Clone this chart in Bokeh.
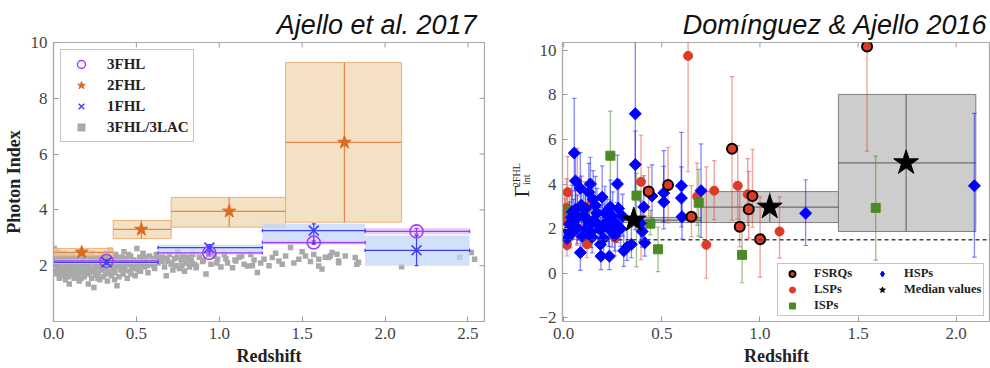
import numpy as np
from bokeh.plotting import figure
from bokeh.layouts import row
from bokeh.models import Legend, LegendItem, Span, FixedTicker, Range1d, Title
from bokeh.core.properties import value
from bokeh.embed import file_html
from bokeh.resources import INLINE

SERIF = "Liberation Serif"
SANS = "Liberation Sans"

# ---------------- Left panel data (Ajello et al. 2017) ----------------
lac_z = [0.005, 0.01, 0.012, 0.015, 0.02, 0.022, 0.025, 0.03, 0.032, 0.035, 0.04, 0.042, 0.045, 0.05, 0.052,
         0.055, 0.06, 0.062, 0.065, 0.07, 0.072, 0.075, 0.08, 0.082, 0.085, 0.09, 0.092, 0.095, 0.098, 0.1,
         0.105, 0.11, 0.112, 0.118, 0.12, 0.125, 0.13, 0.135, 0.14, 0.142, 0.148, 0.15, 0.155, 0.16, 0.165,
         0.17, 0.175, 0.18, 0.185, 0.19, 0.195, 0.2,
         0.205, 0.21, 0.215, 0.22, 0.225, 0.23, 0.235, 0.24, 0.244, 0.25, 0.255, 0.26, 0.265, 0.27, 0.275,
         0.28, 0.285, 0.29, 0.295, 0.3, 0.305, 0.31, 0.315, 0.32, 0.325, 0.33, 0.335, 0.34, 0.345, 0.35,
         0.36, 0.365, 0.37, 0.375, 0.383, 0.39, 0.395, 0.4, 0.405, 0.41, 0.42, 0.425, 0.43, 0.44, 0.445,
         0.45, 0.46, 0.465, 0.47, 0.48, 0.485, 0.493, 0.5, 0.503, 0.51, 0.52, 0.53, 0.54, 0.55, 0.56, 0.57,
         0.58, 0.59, 0.6, 0.61, 0.62, 0.63, 0.64, 0.65,
         0.66, 0.67, 0.68, 0.69, 0.7, 0.71, 0.72, 0.73, 0.74, 0.75, 0.76, 0.77, 0.78, 0.79, 0.8, 0.81, 0.82,
         0.83, 0.84, 0.85, 0.86,
         0.862, 0.88, 0.9, 0.92, 0.95, 0.97, 0.99, 1.01, 1.03, 1.05, 1.08, 1.1, 1.12, 1.15, 1.17, 1.19, 1.21,
         1.23, 1.25, 1.27,
         1.30, 1.32, 1.34, 1.36, 1.38, 1.40, 1.43, 1.45, 1.48, 1.5, 1.52, 1.55, 1.57, 1.60, 1.60, 1.62, 1.64,
         1.66, 1.67, 1.68, 1.71, 1.72, 1.72, 1.76, 1.82, 1.83, 1.84,
         2.10, 2.45, 2.52, 2.54,
         0.008, 0.018, 0.028, 0.038, 0.048, 0.058, 0.068, 0.078, 0.088, 0.108, 0.115, 0.128, 0.138, 0.152,
         0.168, 0.178, 0.192, 0.208, 0.218, 0.228, 0.248, 0.258, 0.268, 0.278, 0.292, 0.308, 0.318, 0.328,
         0.342, 0.355, 0.368, 0.378, 0.388, 0.402, 0.415, 0.428, 0.438, 0.452, 0.468, 0.478, 0.49, 0.508,
         0.525, 0.535, 0.548, 0.565, 0.585, 0.605, 0.625, 0.655, 0.685, 0.715, 0.745, 0.775, 0.805, 0.835,
         0.905, 0.935, 0.985, 1.04, 1.095, 1.135, 1.2]
lac_y = [2.62, 2.35, 2.05, 1.85, 2.25, 1.7, 2.5, 1.95, 2.15, 1.55, 2.4, 1.8, 2.0, 2.3, 1.65,
         2.1, 1.9, 2.45, 1.75, 2.2, 1.5, 2.05, 1.85, 2.35, 1.95, 1.6, 2.15, 1.34, 2.25, 1.8,
         2.0, 1.7, 2.4, 1.9, 2.2, 1.55, 2.05, 1.8, 2.3, 1.65, 1.95, 2.15, 1.45, 2.5, 1.75,
         2.0, 1.9, 2.25, 1.6, 2.1, 1.8, 2.35,
         1.7, 1.34, 2.0, 1.9, 2.2, 1.55, 2.45, 1.8, 1.22, 2.05, 1.65, 2.3, 1.95, 1.75, 2.15,
         1.5, 2.4, 1.85, 2.0, 1.6, 2.25, 1.9, 1.7, 2.1, 1.45, 2.35, 1.8, 2.55, 2.0, 1.65,
         2.2, 1.9, 1.75, 2.4, 1.28, 2.05, 1.6, 2.3, 1.85, 2.15, 1.7, 2.5, 1.95, 2.25, 1.55,
         2.05, 1.8, 2.35, 2.0, 1.9, 2.2, 1.64, 2.1, 2.62, 1.85, 2.3, 2.0, 2.45, 1.95, 2.15, 1.75,
         2.35, 2.05, 2.25, 1.9, 2.4, 2.1, 2.2, 2.3,
         2.3, 1.95, 1.64, 2.15, 2.4, 2.05, 1.85, 2.25, 2.0, 2.5, 1.9, 2.2, 2.35, 1.8, 2.1, 2.3, 1.95,
         2.2, 2.4, 2.05, 1.93,
         1.99, 2.3, 2.15, 1.70, 2.05, 2.35, 2.23, 1.95, 2.4, 2.1, 1.93, 2.17, 2.3, 2.05, 1.99, 2.4, 2.2,
         1.76, 2.1, 2.23,
         2.0, 2.29, 2.45, 2.17, 2.05, 2.35, 2.65, 2.1, 2.23, 2.5, 2.35, 2.15, 2.4, 1.99, 2.23, 1.88, 2.3,
         2.29, 2.35, 2.47, 2.41, 2.11, 2.17, 2.35, 2.29, 2.05, 2.12,
         1.96, 2.3, 2.47, 2.23,
         2.1, 1.75, 2.3, 2.0, 1.9, 2.2, 1.65, 2.4, 2.05, 2.25, 1.85, 1.6, 2.1, 2.2,
         1.55, 2.3, 2.0, 2.15, 1.75, 2.35, 1.9, 2.1, 1.55, 2.25, 2.1, 1.95, 2.45, 1.75,
         2.2, 2.05, 1.5, 2.25, 1.95, 2.0, 2.3, 1.85, 2.1, 2.4, 1.7, 2.2, 1.95, 2.05,
         1.8, 2.2, 2.3, 2.0, 2.1, 2.0, 2.25, 2.15, 2.25, 2.1, 2.3, 2.0, 2.2, 2.1,
         2.2, 2.4, 2.1, 2.25, 2.2, 2.35, 2.0]

fhl2_z = [0.17, 0.53, 1.06, 1.755]
fhl2_y = [2.48, 3.30, 3.95, 6.42]
fhl2_left = [0.0, 0.36, 0.71, 1.40]
fhl2_right = [0.36, 0.71, 1.40, 2.10]
fhl2_lo = [2.35, 2.97, 3.38, 3.56]
fhl2_hi = [2.62, 3.62, 4.45, 9.28]

bin_left = [0.0, 0.63, 1.26, 1.88]
bin_right = [0.63, 1.26, 1.88, 2.51]
fhl3_z = [0.32, 0.94, 1.57, 2.19]
fhl3_y = [2.17, 2.46, 2.83, 3.23]
fhl3_lo = [2.08, 2.40, 2.76, 3.13]
fhl3_hi = [2.23, 2.52, 2.89, 3.34]
fhl1_z = [0.32, 0.94, 1.57, 2.19]
fhl1_y = [2.12, 2.65, 3.26, 2.55]
fhl1_lo = [2.06, 2.52, 2.80, 2.00]
fhl1_hi = [2.18, 2.76, 3.50, 3.08]

left_xticks = [0, 0.5, 1.0, 1.5, 2.0, 2.5]
left_yticks = [2, 4, 6, 8, 10]

# ---------------- Right panel data (Dominguez & Ajello 2016) ----------------
hsp_z = [0.365, 0.365, 0.054, 0.06, 0.085, 0.128, 0.136, 0.196, 0.274, 0.162, 0.238, 0.28, 0.043, 0.10,
         0.051, 0.153, 0.221, 0.272, 0.068, 0.119, 0.187, 0.247, 0.034, 0.094, 0.145, 0.204, 0.017, 0.187,
         0.085, 0.19, 0.233, 0.306, 0.323, 0.345, 0.391, 0.408, 0.40, 0.413, 0.45, 0.51, 0.51, 0.60, 0.60,
         0.603, 0.70, 1.233, 2.093,
         0.03, 0.07, 0.11, 0.13, 0.17, 0.2, 0.25, 0.29, 0.09, 0.15, 0.02, 0.06, 0.12, 0.175, 0.21, 0.26,
         0.3, 0.14, 0.04, 0.23]
hsp_y = [7.15, 4.87, 5.39, 4.14, 3.81, 3.63, 4.0, 3.41, 4.0, 3.04, 2.97, 2.9, 2.75, 2.6,
         2.31, 2.38, 2.31, 2.17, 2.02, 2.02, 1.95, 1.87, 1.73, 1.65, 1.61, 1.55, 1.55, 1.29,
         0.92, 0.76, 0.76, 1.0, 1.17, 1.29, 2.24, 2.97, 1.87, 1.36, 3.46, 3.6, 3.19, 3.92, 3.37,
         2.53, 3.70, 2.69, 3.92,
         2.2, 2.5, 2.9, 2.2, 2.7, 2.1, 2.55, 2.0, 3.05, 3.3, 1.9, 2.85, 2.4, 2.15, 2.7, 1.7,
         2.55, 1.85, 2.5, 2.0]
hsp_lo = [5.2, 1.5, 1.7, 1.3, 1.2, 1.2, 1.2, 1.3, 1.4, 1.2, 1.1, 1.1, 1.0, 1.0,
          0.8, 0.9, 0.9, 0.8, 0.7, 0.8, 0.8, 0.7, 0.6, 0.6, 0.7, 0.7, 0.5, 0.6,
          0.8, 0.6, 0.6, 0.7, 0.6, 0.6, 0.8, 1.0, 0.7, 0.6, 1.3, 1.3, 1.2, 1.6, 1.3,
          1.0, 2.1, 1.45, 3.2,
          0.8, 0.9, 1.0, 0.8, 0.9, 0.8, 0.9, 0.8, 1.1, 1.2, 0.6, 1.0, 0.9, 0.8, 0.9, 0.7,
          0.9, 0.7, 0.9, 0.8]
hsp_hi = [3.5, 1.5, 2.45, 1.3, 1.6, 1.3, 1.2, 1.4, 1.3, 1.3, 1.2, 1.3, 1.2, 1.1,
          1.0, 1.1, 1.0, 1.0, 0.9, 0.9, 1.0, 0.9, 0.8, 0.8, 0.9, 0.8, 0.7, 0.8,
          1.0, 0.9, 0.9, 0.9, 0.8, 0.8, 1.0, 1.4, 0.9, 0.8, 1.4, 1.9, 1.6, 2.4, 1.4,
          1.2, 2.1, 1.5, 3.25,
          1.0, 1.0, 1.2, 1.0, 1.1, 1.0, 1.1, 0.9, 1.3, 1.3, 0.8, 1.2, 1.1, 0.9, 1.2, 0.8,
          1.0, 0.9, 1.0, 0.9]

lsp_z = [0.634, 0.394, 0.68, 0.727, 0.767, 0.887, 0.938, 1.10, 0.02, 0.014, 0.004, 0.008, 0.017, 0.068,
         0.119, 0.263, 0.13, 0.07]
lsp_y = [9.75, 4.10, 3.44, 1.27, 3.70, 3.92, 3.54, 1.87, 3.63, 2.94, 2.63, 2.34, 1.27, 2.05,
         1.29, 1.58, 3.0, 4.1]
lsp_lo = [5.2, 3.5, 1.3, 1.5, 1.3, 1.5, 1.4, 1.2, 1.2, 1.0, 0.9, 0.8, 0.5, 0.8, 0.6, 0.8, 1.0, 1.3]
lsp_hi = [1.0, 2.1, 1.5, 3.5, 1.35, 1.8, 1.6, 1.55, 1.6, 1.3, 1.1, 1.0, 0.9, 1.0, 0.9, 1.0, 1.2, 1.5]

fsrq_z = [0.433, 0.532, 0.651, 0.858, 0.897, 0.943, 0.962, 1.001, 1.546]
fsrq_y = [3.66, 3.95, 2.53, 5.58, 2.08, 2.87, 3.46, 1.52, 10.17]
fsrq_lo = [1.1, 1.7, 0.9, 3.2, 0.9, 1.3, 1.4, 1.7, 4.7]
fsrq_hi = [1.1, 1.7, 1.4, 3.24, 1.6, 1.7, 2.1, 1.9, 1.0]

isp_z = [0.238, 0.371, 0.442, 0.481, 0.688, 0.909, 1.59, 0.03, 0.11]
isp_y = [5.27, 3.48, 2.22, 1.07, 3.16, 0.82, 2.93, 2.80, 2.74]
isp_lo = [2.0, 3.2, 0.5, 1.0, 1.5, 1.25, 2.35, 0.9, 0.9]
isp_hi = [2.0, 1.0, 0.6, 1.0, 1.5, 1.3, 2.32, 1.0, 1.0]

med_z = [0.357, 1.05, 1.745]
med_y = [2.38, 2.96, 4.95]
med_left = [0.0, 0.70, 1.40]
med_right = [0.70, 1.40, 2.10]
med_lo = [2.27, 2.27, 1.87]
med_hi = [2.50, 3.66, 8.02]
gamma_ref = 1.5

right_xticks = [0, 0.5, 1.0, 1.5, 2.0]
right_yticks = [-2, 0, 2, 4, 6, 8, 10]


def style_axis(ax, fsize="17px"):
    ax.axis_line_color = "#aaaaaa"
    ax.axis_line_width = 1.2
    ax.major_tick_in = 5
    ax.major_tick_out = 0
    ax.major_tick_line_color = "#999999"
    ax.minor_tick_line_color = None
    ax.major_label_text_font = SERIF
    ax.major_label_text_font_size = fsize
    ax.major_label_text_color = "#444444"
    ax.major_label_standoff = 6
    ax.axis_label_text_font = SERIF
    ax.axis_label_text_font_style = "bold"
    ax.axis_label_text_font_size = "18px"
    ax.axis_label_text_color = "#222222"
    ax.axis_label_standoff = 4


def frame_ticks(p, xt, ytop, ylen, yt=None, xright=None, xlen=None):
    # inward ticks on the top (and right) frame edge, like a classic matplotlib frame
    p.segment(x0=xt, y0=[ytop] * len(xt), x1=xt, y1=[ytop - ylen] * len(xt),
              line_color="#999999", line_width=1)
    if yt is not None:
        p.segment(x0=[xright] * len(yt), y0=yt, x1=[xright - xlen] * len(yt), y1=yt,
                  line_color="#999999", line_width=1)


def make_title(text, offset):
    return Title(text=text, align="right", offset=offset, standoff=5, text_font=SANS,
                 text_font_style="italic", text_font_size="27px", text_color="#111111")


# ================= LEFT FIGURE =================
p1 = figure(width=495, height=368, x_range=Range1d(0, 2.6), y_range=Range1d(0, 10),
            output_backend="svg", toolbar_location=None,
            min_border_left=49, min_border_right=11, min_border_top=42, min_border_bottom=45)
p1.xgrid.visible = False
p1.ygrid.visible = False
p1.outline_line_color = "#aaaaaa"
p1.outline_line_width = 1.2
p1.xaxis.ticker = FixedTicker(ticks=left_xticks)
p1.yaxis.ticker = FixedTicker(ticks=left_yticks)
p1.xaxis.major_label_overrides = {0: "0.0", 0.5: "0.5", 1.0: "1.0", 1.5: "1.5", 2.0: "2.0", 2.5: "2.5"}
p1.xaxis.axis_label = "Redshift"
p1.yaxis.axis_label = "Photon Index"
style_axis(p1.xaxis[0])
style_axis(p1.yaxis[0])
p1.add_layout(make_title("Ajello et al. 2017", 8), "above")
frame_ticks(p1, left_xticks, 10, 0.18, left_yticks, 2.6, 0.03)

# gray 3FHL/3LAC points
p1.scatter(lac_z, lac_y, marker="square", size=5.5, fill_color="#a9a9a9", line_color=None)

# 2FHL boxes
orange = "#dc6a24"
p1.quad(left=fhl2_left, right=fhl2_right, bottom=fhl2_lo, top=fhl2_hi,
        fill_color="#efd3a8", fill_alpha=0.7, line_color="#e9b27a", line_width=1)
p1.segment(x0=fhl2_left, y0=fhl2_y, x1=fhl2_right, y1=fhl2_y, line_color="#e4864a", line_width=1.2)
p1.segment(x0=fhl2_z, y0=fhl2_lo, x1=fhl2_z, y1=fhl2_hi, line_color="#e4864a", line_width=1.2)
p1.scatter(fhl2_z, fhl2_y, marker="star", size=14, fill_color=orange, line_color=orange)

# 1FHL boxes (blue)
blue = "#3d3dff"
p1.quad(left=bin_left, right=bin_right, bottom=fhl1_lo, top=fhl1_hi,
        fill_color="#c4d6f7", fill_alpha=0.75, line_color=None)
# 3FHL boxes (purple)
purple = "#a03cf5"
p1.quad(left=bin_left, right=bin_right, bottom=fhl3_lo, top=fhl3_hi,
        fill_color="#dcc0fb", fill_alpha=0.8, line_color=None)

for zz, yy, lo, hi, col in [(fhl3_z, fhl3_y, fhl3_lo, fhl3_hi, purple), (fhl1_z, fhl1_y, fhl1_lo, fhl1_hi, blue)]:
    p1.segment(x0=bin_left, y0=yy, x1=bin_right, y1=yy, line_color=col, line_width=1.3)
    p1.segment(x0=bin_left, y0=[v - 0.06 for v in yy], x1=bin_left, y1=[v + 0.06 for v in yy],
               line_color=col, line_width=1.3)
    p1.segment(x0=bin_right, y0=[v - 0.06 for v in yy], x1=bin_right, y1=[v + 0.06 for v in yy],
               line_color=col, line_width=1.3)
    p1.segment(x0=zz, y0=lo, x1=zz, y1=hi, line_color=col, line_width=1.2)
    p1.segment(x0=[v - 0.012 for v in zz], y0=lo, x1=[v + 0.012 for v in zz], y1=lo, line_color=col, line_width=1.2)
    p1.segment(x0=[v - 0.012 for v in zz], y0=hi, x1=[v + 0.012 for v in zz], y1=hi, line_color=col, line_width=1.2)

p1.scatter(fhl3_z, fhl3_y, marker="circle", size=13, fill_color=None, line_color=purple, line_width=1.6)
p1.scatter(fhl1_z, fhl1_y, marker="x", size=14, line_color=blue, line_width=1.6)

# legend dummies
nan = [float("nan")]
l_3fhl = p1.scatter(nan, nan, marker="circle", size=9, fill_color=None, line_color=purple, line_width=1.4)
l_2fhl = p1.scatter(nan, nan, marker="star", size=9, fill_color=orange, line_color=orange)
l_1fhl = p1.scatter(nan, nan, marker="x", size=9, line_color=blue, line_width=1.4)
l_lac = p1.scatter(nan, nan, marker="square", size=7, fill_color="#a9a9a9", line_color=None)
leg1 = Legend(items=[LegendItem(label="3FHL", renderers=[l_3fhl]),
                     LegendItem(label="2FHL", renderers=[l_2fhl]),
                     LegendItem(label="1FHL", renderers=[l_1fhl]),
                     LegendItem(label="3FHL/3LAC", renderers=[l_lac])],
              location="top_left", margin=7, padding=4, spacing=1,
              glyph_width=32, glyph_height=20, label_height=20, label_standoff=10,
              label_text_font=SERIF, label_text_font_style="bold", label_text_font_size="15px",
              label_text_color="#222222", border_line_color="#8a8a8a", border_line_width=1.3,
              background_fill_color="white", background_fill_alpha=1.0)
p1.add_layout(leg1, "center")

# ================= RIGHT Y-LABEL STRIP =================
pl = figure(width=40, height=368, x_range=Range1d(0, 40), y_range=Range1d(0, 368),
            output_backend="svg", toolbar_location=None, x_axis_location=None, y_axis_location=None,
            min_border=0)
pl.xgrid.visible = False
pl.ygrid.visible = False
pl.outline_line_color = None
gam_text = ["\u0393", "2FHL", "int"]
gam_x = [26.5, 21.0, 31.0]
gam_y = [172.0, 193.0, 187.0]
gam_size = ["21px", "10px", "10px"]
pl.text(x=gam_x, y=gam_y, text=gam_text, angle=np.pi / 2, text_align="center", text_baseline="middle",
        text_font=value(SERIF), text_font_size=gam_size, text_color="#222222")

# ================= RIGHT FIGURE =================
p2 = figure(width=455, height=368, x_range=Range1d(-0.006, 2.175), y_range=Range1d(-2.17, 10.35),
            output_backend="svg", toolbar_location=None,
            min_border_left=27, min_border_right=0, min_border_top=40, min_border_bottom=43)
p2.xgrid.visible = False
p2.ygrid.visible = False
p2.outline_line_color = "#aaaaaa"
p2.outline_line_width = 1.2
p2.xaxis.ticker = FixedTicker(ticks=right_xticks)
p2.yaxis.ticker = FixedTicker(ticks=right_yticks)
p2.xaxis.major_label_overrides = {0: "0.0", 0.5: "0.5", 1.0: "1.0", 1.5: "1.5", 2.0: "2.0"}
p2.yaxis.major_label_overrides = {-2: "\u22122"}
p2.xaxis.axis_label = "Redshift"
style_axis(p2.xaxis[0])
style_axis(p2.yaxis[0])
p2.add_layout(make_title("Dom\u00ednguez & Ajello 2016", 3), "above")
frame_ticks(p2, right_xticks, 10.35, 0.22)

# median bins
p2.quad(left=med_left, right=med_right, bottom=med_lo, top=med_hi,
        fill_color="#bcbcbc", fill_alpha=0.75, line_color="#808080", line_width=1)
p2.segment(x0=med_left, y0=med_y, x1=med_right, y1=med_y, line_color="#555555", line_width=1.2, line_alpha=0.8)
p2.segment(x0=med_z, y0=med_lo, x1=med_z, y1=med_hi, line_color="#555555", line_width=1.2, line_alpha=0.8)

p2.add_layout(Span(location=gamma_ref, dimension="width", line_color="#444444", line_width=1.5, line_dash="4 3"))

red = "#de3a2a"
green = "#4b8a26"
hblue = "#0000ff"


def errbars(p, zz, yy, lo, hi, col, alpha, cap=0.012):
    y0 = [a - b for a, b in zip(yy, lo)]
    y1 = [a + b for a, b in zip(yy, hi)]
    p.segment(x0=zz, y0=y0, x1=zz, y1=y1, line_color=col, line_width=1.4, line_alpha=alpha)
    xl = [v - cap for v in zz]
    xr = [v + cap for v in zz]
    p.segment(x0=xl, y0=y0, x1=xr, y1=y0, line_color=col, line_width=1.2, line_alpha=alpha)
    p.segment(x0=xl, y0=y1, x1=xr, y1=y1, line_color=col, line_width=1.2, line_alpha=alpha)


errbars(p2, lsp_z, lsp_y, lsp_lo, lsp_hi, red, 0.45)
errbars(p2, fsrq_z, fsrq_y, fsrq_lo, fsrq_hi, red, 0.45)
errbars(p2, isp_z, isp_y, isp_lo, isp_hi, green, 0.5)
errbars(p2, hsp_z, hsp_y, hsp_lo, hsp_hi, hblue, 0.45)

p2.scatter(lsp_z, lsp_y, marker="circle", size=9, fill_color=red, line_color=red)
p2.scatter(isp_z, isp_y, marker="square", size=9, fill_color=green, line_color=green)
p2.scatter(hsp_z, hsp_y, marker="square", angle=np.pi / 4, size=8.5, fill_color=hblue, line_color=hblue)
p2.scatter(fsrq_z, fsrq_y, marker="circle", size=10, fill_color=red, line_color="black", line_width=2)
p2.scatter(med_z, med_y, marker="star", size=26, fill_color="black", line_color="black")

l_fsrq = p2.scatter(nan, nan, marker="circle", size=11, fill_color=red, line_color="black", line_width=2)
l_lsp = p2.scatter(nan, nan, marker="circle", size=10, fill_color=red, line_color=red)
l_isp = p2.scatter(nan, nan, marker="square", size=9, fill_color=green, line_color=green)
l_hsp = p2.scatter(nan, nan, marker="diamond", size=13, fill_color=hblue, line_color=hblue)
l_med = p2.scatter(nan, nan, marker="star", size=10, fill_color="black", line_color="black")
leg2 = Legend(items=[LegendItem(label="FSRQs", renderers=[l_fsrq]),
                     LegendItem(label="LSPs", renderers=[l_lsp]),
                     LegendItem(label="ISPs", renderers=[l_isp]),
                     LegendItem(label="HSPs", renderers=[l_hsp]),
                     LegendItem(label="Median values", renderers=[l_med])],
              nrows=3, orientation="vertical",
              location=(215, 5), padding=2, spacing=1,
              glyph_width=24, glyph_height=15, label_height=15, label_standoff=10, label_width=55,
              label_text_font=SERIF, label_text_font_style="bold", label_text_font_size="12.5px",
              label_text_color="#222222", border_line_color="#8a8a8a", border_line_width=1.3,
              background_fill_color="white", background_fill_alpha=1.0)
p2.add_layout(leg2, "center")

layout = row(p1, pl, p2, spacing=0)
open("out.html", "w").write(file_html(layout, INLINE))
